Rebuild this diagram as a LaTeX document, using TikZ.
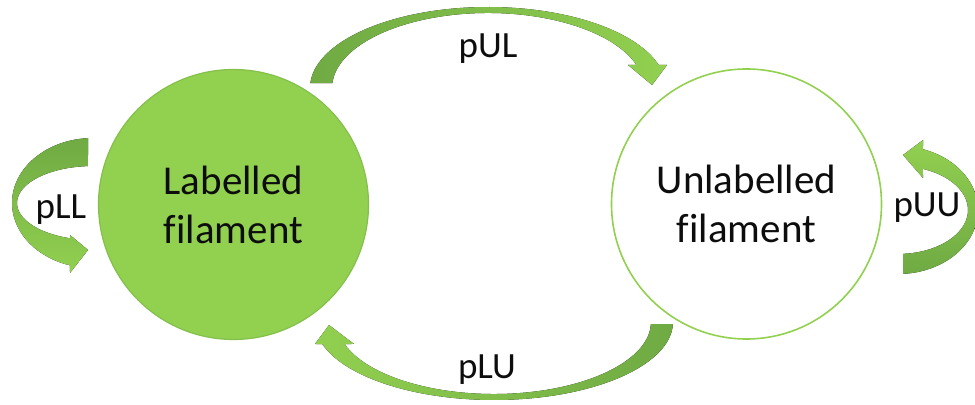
\documentclass[tikz,border=0pt]{standalone}
\usepackage{fontspec}
\setmainfont{Carlito}[Ligatures=CommonOff]
\usepackage{tikz}
\usetikzlibrary{calc}
\definecolor{leafgreen}{HTML}{92D050}
\definecolor{mossgreen}{HTML}{6FAA43}
\definecolor{rimgreen}{HTML}{84C04B}

\begin{document}
\begin{tikzpicture}[x=0.5pt,y=-0.5pt,
  state/.style={circle,minimum size=135pt,inner sep=0pt,align=center,
    font=\fontsize{20.5}{24.5}\selectfont,text=black!95},
  prob/.style={anchor=base,font=\fontsize{18.5}{22}\selectfont,text=black!95}]
\useasboundingbox (0,0) rectangle (975,405);

\node[state,fill=leafgreen,draw=rimgreen,line width=0.6pt] (lab) at (233.5,204.5) {Labelled\\filament};
\node[state,fill=white,draw=leafgreen,line width=0.8pt] (unl) at (746.5,204) {Unlabelled\\filament};

\coordinate (ul) at (488,88);
\coordinate (lu) at (494,322);
\coordinate (ll) at (93,203);
\coordinate (uu) at (898,210);

% top: labelled -> unlabelled
\fill[left color=mossgreen,right color=leafgreen]
  ($(ul)+(183.5:178 and 81)$) arc[start angle=183.5,end angle=343.5,x radius=178,y radius=81]
  -- (667,65) -- (652,85) -- (628,65)
  -- ($(ul)+(342.1:156 and 75)$) arc[start angle=342.1,end angle=183.8,x radius=156,y radius=75]
  -- cycle;
% bottom: unlabelled -> labelled
\fill[left color=leafgreen,right color=mossgreen]
  ($(lu)+(1.5:179 and 78)$) arc[start angle=1.5,end angle=163.6,x radius=179,y radius=78]
  -- (315,344) -- (329,325) -- (354,344)
  -- ($(lu)+(162.2:157 and 72)$) arc[start angle=162.2,end angle=1.6,x radius=157,y radius=72]
  -- cycle;
% left loop
\fill[top color=mossgreen,bottom color=leafgreen]
  ($(ll)+(266.5:81 and 65)$) arc[start angle=266.5,end angle=106.5,x radius=81,y radius=65]
  -- (70,273) -- (88,250) -- (70,235)
  -- ($(ll)+(107.6:76 and 37)$) arc[start angle=107.6,end angle=266.2,x radius=76,y radius=37]
  -- cycle;
% right loop
\fill[top color=leafgreen,bottom color=mossgreen]
  ($(uu)+(86.4:80 and 64)$) arc[start angle=86.4,end angle=-71.8,x radius=80,y radius=64]
  -- (923,140) -- (903,155) -- (923,178)
  -- ($(uu)+(-69.1:70 and 44)$) arc[start angle=-69.1,end angle=85.9,x radius=70,y radius=44]
  -- cycle;

\node[prob] (pul) at (488,58) {pUL};
\node[prob] (plu) at (487,379) {pLU};
\node[prob] (pll) at (61,219) {pLL};
\node[prob] (puu) at (927,217) {pUU};
\end{tikzpicture}
\end{document}
